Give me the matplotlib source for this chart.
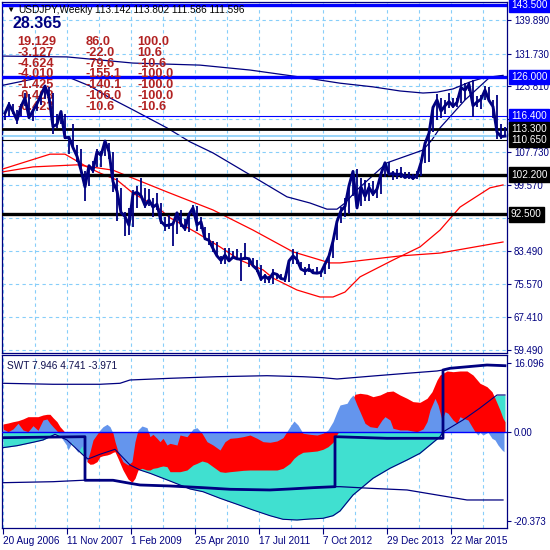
import numpy as np
import matplotlib
matplotlib.use('Agg')
import matplotlib.pyplot as plt
from matplotlib.transforms import blended_transform_factory

plt.rcParams['font.family'] = ['Liberation Sans', 'DejaVu Sans']

NAVY = '#000080'
GRID = '#87CEFA'

# USDJPY weekly, read in 4-week blocks starting 20 Aug 2006
price_high = [117.5, 119.8, 119.5, 118.0, 119.5, 122.0, 121.9, 118.0, 120.0, 121.8,
              124.0, 123.5, 122.0, 117.0, 117.8, 117.0, 111.5, 114.5, 109.5, 108.5,
              103.0, 104.5, 105.5, 108.5, 108.0, 110.6, 110.0, 107.8, 101.5, 99.0,
              93.0, 94.0, 98.5, 99.5, 101.4, 99.0, 98.8, 96.5, 97.8, 95.2,
              92.0, 92.3, 90.5, 93.0, 93.7, 91.5, 92.8, 94.7, 94.5, 92.0,
              89.5, 88.0, 86.0, 85.9, 82.5, 84.4, 84.3, 83.5, 84.0, 83.0,
              85.5, 82.0, 81.8, 81.4, 80.2, 77.9, 77.6, 79.3, 78.0, 78.1,
              77.6, 81.2, 84.2, 83.3, 81.0, 79.8, 80.5, 79.3, 79.6, 78.5,
              80.3, 82.8, 86.5, 90.8, 94.4, 96.5, 99.8, 103.0, 103.7, 101.5,
              100.8, 100.2, 100.6, 99.1, 102.5, 104.8, 105.4, 103.0, 103.7, 104.1,
              102.8, 102.8, 102.3, 103.1, 105.7, 110.0, 112.5, 118.9, 121.8, 120.8,
              120.5, 122.0, 120.8, 120.9, 125.8, 124.5, 124.9, 125.2, 121.3, 121.5,
              123.7, 123.6, 120.5, 121.5, 114.5, 113.8]
price_low = [115.5, 116.5, 116.9, 114.5, 116.5, 119.0, 116.0, 115.2, 117.6, 119.2,
             120.6, 120.9, 112.0, 113.5, 114.5, 110.8, 107.2, 108.5, 105.3, 103.5,
             95.8, 99.5, 102.5, 104.0, 104.0, 106.8, 106.0, 98.0, 91.0, 92.5,
             87.2, 87.5, 89.5, 94.0, 97.0, 94.0, 94.5, 92.0, 93.5, 90.2,
             88.5, 89.0, 84.8, 87.8, 89.5, 88.5, 88.2, 92.3, 88.5, 89.0,
             86.3, 85.0, 83.4, 82.2, 80.4, 80.5, 81.0, 81.6, 81.5, 76.3,
             81.5, 79.6, 79.7, 78.5, 76.3, 75.9, 75.9, 75.6, 76.8, 76.8,
             76.1, 76.0, 80.5, 80.5, 79.0, 77.7, 78.6, 77.9, 78.0, 77.2,
             78.0, 79.2, 81.8, 86.2, 90.5, 92.0, 92.6, 97.0, 93.8, 94.5,
             95.8, 95.8, 97.0, 96.6, 97.6, 101.6, 102.8, 100.8, 101.2, 101.3,
             101.4, 101.1, 101.0, 101.2, 102.0, 105.0, 105.2, 112.6, 115.6, 115.9,
             117.0, 118.5, 118.4, 118.6, 119.6, 120.5, 122.6, 116.2, 118.6, 118.1,
             120.3, 120.2, 115.9, 111.0, 111.0, 111.6]
price_close = [117.2, 119.3, 117.6, 115.5, 118.8, 120.9, 116.1, 117.8, 119.5, 121.6,
               123.8, 121.1, 113.9, 114.5, 117.6, 111.2, 111.3, 108.8, 106.7, 103.3,
               99.2, 104.4, 103.2, 107.8, 106.9, 110.4, 107.8, 100.5, 98.2, 93.0,
               92.0, 89.9, 97.6, 97.9, 97.1, 94.7, 96.0, 94.3, 95.0, 90.8,
               89.8, 89.9, 90.2, 92.9, 90.2, 89.0, 92.5, 94.1, 90.0, 90.7,
               86.6, 86.2, 84.2, 82.4, 81.3, 82.6, 81.2, 82.1, 81.7, 81.6,
               81.9, 81.7, 80.0, 79.1, 76.8, 77.5, 76.7, 78.2, 77.9, 76.9,
               76.7, 81.2, 82.4, 81.5, 79.2, 78.7, 79.2, 78.3, 78.2, 78.4,
               80.4, 82.4, 86.0, 90.8, 93.4, 94.5, 99.5, 103.0, 94.1, 99.2,
               96.9, 99.1, 97.5, 98.7, 102.4, 105.1, 102.3, 102.5, 102.2, 102.4,
               101.5, 102.0, 101.3, 102.0, 105.1, 109.8, 112.3, 118.6, 120.4, 117.7,
               119.0, 120.0, 118.9, 119.8, 123.4, 122.8, 124.2, 119.0, 119.9, 120.6,
               122.8, 120.3, 118.8, 112.6, 111.5, 111.6]

# moving averages on the price window (week index, price)
ma_slow_wk = [0, 64, 130, 197, 247, 297, 337, 370, 397, 420, 434, 450, 467, 480, 500]
ma_slow = [131.1, 130.9, 129.4, 128.9, 127.7, 126.0, 124.5, 123.6, 122.6, 122.1,
           122.3, 123.1, 124.8, 125.8, 126.2]
ma_mid_wk = [0, 40, 67, 87, 107, 130, 164, 187, 210, 244, 284, 307, 324, 334, 342,
             354, 384, 420, 429, 437, 462, 487, 500]
ma_mid = [124.0, 126.0, 125.8, 123.8, 120.9, 118.0, 113.6, 110.2, 107.5, 102.6, 96.8,
          95.3, 93.8, 93.8, 95.3, 98.5, 105.1, 108.2, 110.7, 113.6, 120.4, 126.0, 126.4]
red_fast_wk = [0, 47, 62, 84, 97, 114, 130, 154, 167, 194, 217, 237, 260, 270, 294,
               317, 330, 342, 357, 390, 417, 437, 457, 487, 500]
red_fast = [103.6, 107.2, 107.2, 104.1, 102.6, 100.9, 97.7, 94.3, 91.7, 88.0, 84.6,
            81.4, 79.0, 77.0, 74.1, 72.4, 72.4, 73.6, 77.3, 81.4, 84.6, 88.7, 94.3,
            99.0, 99.7]
red_slow_wk = [0, 30, 74, 110, 164, 210, 250, 290, 327, 337, 397, 437, 500]
red_slow = [102.9, 104.1, 104.6, 103.3, 98.0, 93.6, 88.7, 83.4, 80.7, 80.7, 82.4,
            83.1, 85.8]

levels = [143.5, 126.0, 116.4, 113.3, 110.65, 102.2, 92.5]
bid = 111.596
price_ticks = [139.89, 131.73, 123.81, 115.77, 107.73, 99.57, 91.65, 83.49, 75.57,
               67.41, 59.49]
hidden_tick = 115.77  # sits under the 116.400 tag

date_ticks = [0, 64, 128, 192, 256, 320, 384, 448]
date_labels = ['20 Aug 2006', '11 Nov 2007', '1 Feb 2009', '25 Apr 2010',
               '17 Jul 2011', '7 Oct 2012', '29 Dec 2013', '22 Mar 2015']

# SWT indicator
swt_blue_wk = [0, 5, 10, 15, 20, 25, 30, 35, 40, 44, 47, 50, 54, 57, 60, 64, 65, 69,
               72, 75, 79, 82, 84, 87, 90, 94, 97, 100, 104, 107, 110, 112, 115, 120,
               125, 129, 132, 135, 139, 144, 147, 150, 154, 157, 160, 164,
               167, 174, 177, 184, 190, 194, 199, 204, 210, 217, 222, 227, 234, 240,
               247, 254, 260, 267, 274, 280, 287, 291, 295, 300, 307, 314, 320, 325,
               330, 334, 337,
               344, 347, 350, 354, 357, 362, 367, 374, 379, 382, 387, 390, 397, 404,
               414, 420, 424, 427, 432, 435, 439, 442, 445, 450, 454, 457, 460, 465,
               469, 472, 475, 477, 480, 485, 489, 492, 495, 499, 501]
swt_blue = [0.81, 0.18, 0.81, 2.12, 0.58, 0.18, 1.57, 0.51, 2.89, 3.12,
            2.12, 1.34, 0.35, -0.58, -1.73, -3.05, -4.04, -2.26, -3.65, -4.57,
            -3.05, -5.19, -6.74, -4.43, -1.73, -0.42, 0.58, 1.34, 1.89, 1.34,
            -0.18, -2.12, -4.43, -6.74, -7.5, -6.74, -2.12, 0.58, 1.5, 1.11,
            -0.97, -0.42, -1.34, -2.12, -1.34, -2.89,
            -2.5, -2.89, -0.58, -0.97, 0.81, 1.11, -0.18, -2.12, -2.89, -4.04,
            -2.12, -1.34, -1.2, -0.97, -0.58, -1.34, -2.12, -2.26, -1.96, -1.2,
            1.34, 2.65, 1.73, -0.18, -0.42, -0.58, -0.18, 0.58, 2.49, 4.8, 6.35,
            6.74, 7.89, 8.66, 6.35, 4.8, 2.12, 1.34, 1.11, 2.89, 3.65,
            2.89, 0.97, 0.58, 0.58, 0.18, 0.81, 2.49, 5.19, 7.89, 6.35,
            2.89, 4.8, 4.43, 2.89, 2.12, 3.65, 3.28, 2.89, 1.34, 0.18,
            -0.58, 0.05, -0.58, 0.05, -1.34, -1.73, -2.89, -4.04, -4.43]
swt_red_wk = swt_blue_wk[:77] + [344, 350, 352, 357, 364, 370, 377, 384, 390, 397, 404,
                                 410, 417, 424, 429, 434, 437, 444, 450, 457, 464, 470,
                                 477, 484, 489, 492, 497, 500, 502]
swt_red = [1.96, 2.19, 2.49, 2.72, 3.12, 3.65, 3.65, 3.65, 4.04, 4.2,
           4.2, 3.42, 2.49, 1.34, 0.58, -0.58, -1.34, -1.73, -2.89, -4.04,
           -2.72, -5.19, -6.74, -7.34, -7.27, -6.74, -5.59, -5.36, -5.19, -4.96,
           -4.57, -4.43, -5.96, -8.66, -10.73, -11.5, -10.57, -8.66, -8.27, -8.66,
           -8.66, -8.27, -8.12, -7.89, -7.73, -7.89,
           -9.05, -9.05, -9.05, -8.66, -7.5, -7.12, -6.58, -6.89, -7.89, -9.05,
           -9.2, -9.05, -8.89, -8.74, -8.66, -8.66, -8.66, -8.66, -8.66, -8.27,
           -7.12, -5.96, -5.19, -4.57, -4.43, -4.27, -3.88, -3.28, -2.26, -0.42, 0.58,
           4.43, 7.89, 8.82, 9.05, 8.82, 8.27, 8.66, 9.42, 9.58, 8.66, 7.89,
           7.12, 6.97, 7.89, 9.42, 12.12, 13.27, 14.2, 14.04, 14.2, 14.2, 13.27,
           11.36, 10.57, 9.42, 7.89, 5.19, 3.28, 2.49]
swt_teal_wk = [0, 14, 30, 40, 47, 52, 64, 80, 85, 97, 112, 127, 137, 147, 167, 187,
               200, 217, 234, 250, 267, 280, 294, 307, 320, 330, 337, 350, 370, 387,
               404, 417, 427, 437, 440, 460, 477, 494, 502]
swt_teal = [-3.5, -3.05, -2.26, -1.73, -0.97, -0.42, -1.73, -5.19, -6.12, -5.03,
            -3.88, -7.5, -8.66, -9.42, -11.2, -13.04, -13.67, -15.19, -16.57, -17.89,
            -19.21, -20.04, -20.2, -19.97, -19.81, -19.21, -18.12, -14.43, -10.57,
            -8.26, -6.35, -4.8, -2.89, -0.97, 0.12, 2.89, 5.66, 8.66, 8.66]
band_up_wk = [0, 50, 97, 117, 127, 167, 214, 264, 300, 320, 334, 370, 404, 434, 440,
              447, 484, 502]
band_up = [11.36, 11.13, 11.13, 11.36, 12.12, 12.51, 12.88, 13.11, 12.88, 12.65,
           12.35, 13.04, 13.67, 14.2, 14.43, 14.82, 15.58, 15.42]
band_lo_wk = [0, 50, 80, 110, 127, 137, 167, 200, 227, 267, 287, 310, 330, 337, 367,
              404, 434, 464, 500]
band_lo = [-11.59, -11.36, -11.03, -11.03, -11.73, -12.12, -12.35, -12.74, -13.11,
           -13.27, -13.04, -12.74, -12.51, -12.51, -12.88, -13.27, -14.43, -15.58,
           -15.58]
state_wk = [0, 82, 82, 110, 127, 137, 167, 200, 227, 267, 287, 310, 332, 332, 384,
            440, 440, 447, 484, 502]
state = [-1.2, -0.97, -11.03, -11.03, -11.73, -12.12, -12.35, -12.74, -13.11, -13.27,
         -13.04, -12.74, -12.51, -0.97, -1.34, -1.34, 14.43, 14.82, 15.58, 15.42]
swt_ticks = [16.096, 0.0, -20.373]

W = H = 550
fig = plt.figure(figsize=(5.5, 5.5), dpi=100)


def px_box(left, top, right, bottom):
    return [left / W, 1 - bottom / H, (right - left) / W, (bottom - top) / H]


def fig_xy(x, y):
    return x / W, 1 - y / H


ax = fig.add_axes(px_box(2, 2, 507, 353))
ax2 = fig.add_axes(px_box(2, 355, 507, 528))

for a in (ax, ax2):
    a.set_xlim(-1, 504)
    a.set_axisbelow(True)
    a.set_xticks(date_ticks)
    a.set_xticks([t + 32 for t in date_ticks], minor=True)
    a.grid(True, which='both', axis='x', color=GRID, ls=(0, (3, 3)), lw=0.8)
    for s in a.spines.values():
        s.set_color(NAVY)
        s.set_linewidth(0.9)
    a.yaxis.tick_right()
    a.tick_params(axis='y', direction='out', length=3, colors=NAVY, labelsize=7, pad=2)

# ---- price window ----
ax.set_ylim(58.75, 144.28)
ax.set_yticks(price_ticks)
ax.set_yticklabels(['' if t == hidden_tick else f'{t:.3f}' for t in price_ticks])
ax.grid(True, axis='y', color=GRID, ls=(0, (3, 3)), lw=0.8)
ax.tick_params(axis='x', which='both', length=0, labelbottom=False)

ax.plot(ma_slow_wk, ma_slow, color=NAVY, lw=0.9, zorder=3)
ax.plot(ma_mid_wk, ma_mid, color=NAVY, lw=0.9, zorder=3)
ax.plot(red_fast_wk, red_fast, color='#FF0000', lw=0.9, zorder=3)
ax.plot(red_slow_wk, red_slow, color='#FF0000', lw=0.9, zorder=3)

level_colors = ['#0000FF', '#0000FF', '#0000FF', 'black', 'black', 'black', 'black']
level_widths = [2.4, 2.4, 0.8, 2.0, 0.8, 2.4, 2.4]
for lvl, c, w in zip(levels, level_colors, level_widths):
    ax.axhline(lvl, color=c, lw=w, zorder=4)
ax.axhline(bid, color=GRID, lw=1.2, zorder=4)

wk = np.arange(len(price_close)) * 4 + 2
ax.vlines(wk, price_low, price_high, color=NAVY, lw=1.3, zorder=6)
ax.plot(wk, price_close, color=NAVY, lw=2.1, zorder=6)

trans = blended_transform_factory(ax.transAxes, ax.transData)
for lvl, c in zip(levels, level_colors):
    ax.text(1.0079, lvl, f'{lvl:.3f}', transform=trans, ha='left', va='center',
            color='white', fontsize=7.2, clip_on=False, zorder=10,
            bbox=dict(boxstyle='square,pad=0.22', fc=c, ec=c))

# header and info table
ax.text(*fig_xy(6, 10), '\u25bc', transform=fig.transFigure, fontsize=6,
        va='center', ha='left', color='black', zorder=7)
ax.text(*fig_xy(18, 10), 'USDJPY,Weekly', transform=fig.transFigure, fontsize=7.3,
        va='center', ha='left', color='black', zorder=7)
ax.text(*fig_xy(95, 10), '113.142 113.802 111.586 111.596', transform=fig.transFigure,
        fontsize=7.2, va='center', ha='left', color='black', zorder=7)
ax.text(*fig_xy(12, 24), '28.365', transform=fig.transFigure, fontsize=11.5,
        fontweight='bold', va='center', ha='left', color=NAVY, zorder=5)

table = [['19.129', '86.0', '100.0'],
         ['-3.127', '-22.0', '10.6'],
         ['-4.624', '-79.6', '-10.6'],
         ['-4.010', '-155.1', '-100.0'],
         ['-1.425', '-140.1', '-100.0'],
         ['-0.403', '-106.0', '-100.0'],
         ['-0.423', '-10.6', '-10.6']]
row_y = [42, 52.8, 63.6, 74.4, 85.2, 96, 106.8]
col_x = [17, 86, 137]
for row, y in zip(table, row_y):
    for cell, x in zip(row, col_x):
        ax.text(*fig_xy(x, y), cell, transform=fig.transFigure, fontsize=9.2,
                fontweight='bold', va='center', ha='left', color='#B22222', zorder=5)

# ---- SWT window ----
ax2.set_ylim(-22.05, 17.89)
ax2.set_yticks(swt_ticks)
ax2.set_yticklabels(['16.096', '0.00', '-20.373'])
ax2.set_xticklabels(date_labels, ha='left')
ax2.tick_params(axis='x', which='major', direction='out', length=4, colors=NAVY,
                labelsize=7.2, pad=2)
ax2.tick_params(axis='x', which='minor', length=0)

ax2.fill_between(swt_teal_wk, 0, swt_teal, color='#40E0D0', lw=0, zorder=1)
ax2.fill_between(swt_red_wk, 0, swt_red, color='#FF0000', lw=0, zorder=2)
ax2.fill_between(swt_blue_wk, 0, swt_blue, color='#6495ED', lw=0, zorder=3)
ax2.plot(swt_teal_wk, swt_teal, color=NAVY, lw=0.8, zorder=4)
ax2.axhline(0, color='#0000FF', lw=1.0, zorder=4)
ax2.plot(band_up_wk, band_up, color=NAVY, lw=0.9, zorder=5)
ax2.plot(band_lo_wk, band_lo, color=NAVY, lw=0.9, zorder=5)
ax2.plot(state_wk, state, color=NAVY, lw=2.0, zorder=6)

ax2.text(*fig_xy(7, 366), 'SWT 7.946 4.741 -3.971', transform=fig.transFigure,
         fontsize=7.3, va='center', ha='left', color='#101050')

fig.savefig('out.png', dpi=100, facecolor='white')
